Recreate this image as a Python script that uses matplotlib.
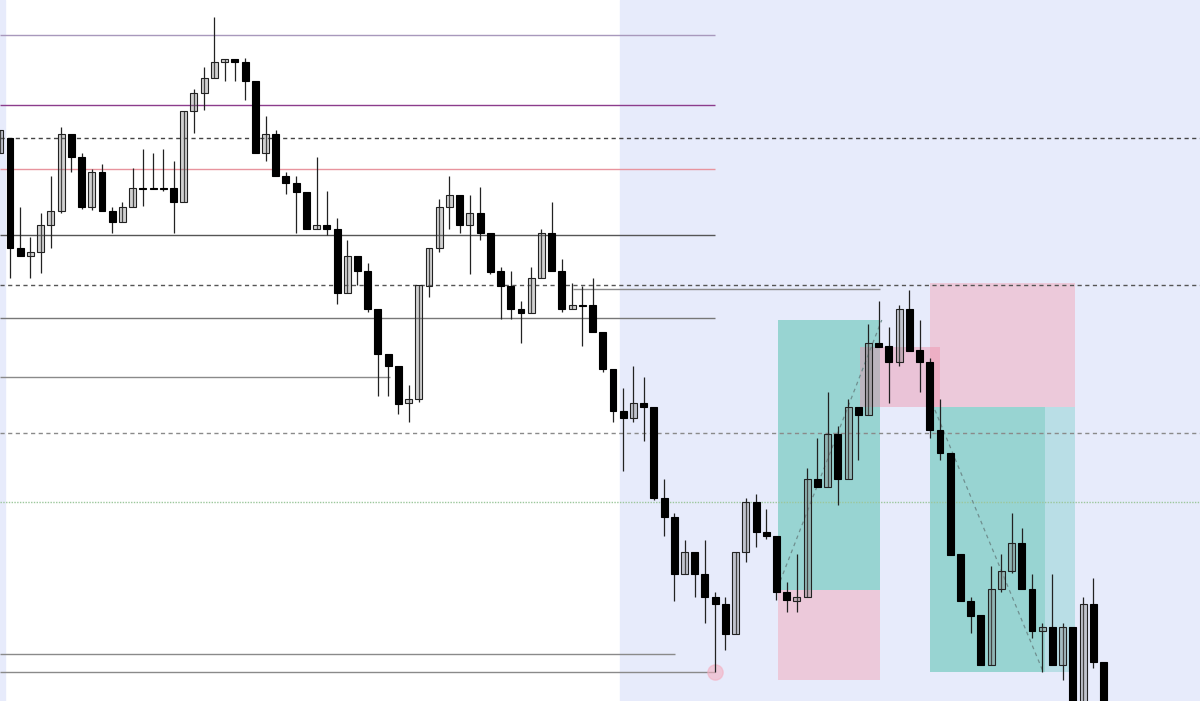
"""
Свечной график с зонами сделок и горизонтальными уровнями.
"""

import matplotlib

matplotlib.use("Agg")
import matplotlib.pyplot as plt
import numpy as np
from matplotlib.patches import Rectangle

# Цены в единицах графика (ось цены перевёрнута: меньше значение -> выше на графике)
opens = [153, 138, 248, 256, 252, 225, 211, 134, 157, 207, 172, 211, 222, 207, 188, 188, 188, 188, 202,
         111, 93, 78, 62, 59, 62, 81, 153, 134, 176, 183, 192, 229, 225, 229, 293, 256, 271, 309, 354,
         366, 403, 399, 286, 248, 207, 195, 225, 213, 233, 271, 286, 309, 313, 278, 233, 271, 309, 305,
         305, 332, 369, 411, 418, 403, 407, 498, 517, 574, 552, 574, 597, 604, 634, 552, 502, 532, 536,
         592, 601, 597, 479, 487, 434, 479, 407, 415, 343, 346, 362, 309, 350, 362, 430, 453, 554, 601,
         615, 665, 589, 571, 543, 589, 631, 627, 665, 627, 710, 604, 662]
highs = [130, 138, 207, 237, 213, 176, 127, 134, 153, 169, 164, 207, 202, 168, 149, 153, 149, 161, 111,
         89, 67, 17, 59, 59, 58, 81, 116, 130, 172, 176, 192, 157, 191, 218, 240, 256, 263, 309, 354,
         366, 385, 285, 248, 199, 176, 195, 195, 187, 233, 267, 271, 301, 267, 229, 202, 259, 283, 286,
         278, 332, 369, 388, 366, 377, 407, 479, 513, 540, 552, 540, 592, 597, 552, 498, 494, 509, 536,
         582, 554, 468, 438, 392, 426, 399, 407, 324, 301, 327, 305, 290, 320, 358, 399, 453, 554, 597,
         615, 566, 554, 513, 528, 574, 623, 574, 623, 627, 597, 578, 662]
lows = [153, 278, 256, 278, 273, 248, 213, 172, 209, 210, 211, 233, 222, 207, 206, 189, 191, 233, 202,
        133, 110, 78, 81, 81, 100, 153, 161, 176, 194, 233, 229, 229, 235, 304, 293, 285, 312, 396, 396,
        414, 422, 402, 297, 252, 229, 233, 274, 240, 274, 319, 319, 343, 313, 278, 271, 312, 309, 346,
        332, 372, 422, 471, 422, 441, 500, 536, 601, 574, 597, 623, 672, 650, 634, 562, 547, 539, 600,
        612, 612, 597, 487, 487, 505, 479, 460, 415, 347, 403, 366, 351, 392, 438, 460, 555, 601, 633,
        665, 665, 592, 573, 589, 638, 672, 665, 680, 710, 710, 668, 710]
closes = [130, 248, 256, 252, 225, 211, 134, 157, 207, 172, 211, 222, 207, 188, 188, 188, 188, 202, 111,
          93, 78, 62, 59, 62, 81, 153, 134, 176, 183, 192, 229, 225, 229, 293, 256, 271, 309, 354, 366,
          404, 399, 285, 248, 207, 195, 225, 213, 233, 272, 286, 309, 313, 278, 233, 271, 309, 305, 305,
          332, 369, 411, 418, 403, 407, 498, 517, 574, 552, 574, 597, 604, 634, 552, 502, 532, 536, 592,
          600, 597, 479, 487, 434, 479, 407, 415, 343, 347, 362, 309, 351, 362, 430, 453, 555, 601, 616,
          665, 589, 571, 543, 589, 631, 627, 665, 627, 710, 604, 662, 710]

# Горизонтальные уровни: цена, начало и конец в номерах свечей, цвет
level_prices = [35, 105, 169, 235, 318, 377, 654, 672, 289]
level_starts = [0, 0, 0, 0, 0, 0, 0, 0, 56.1]
level_ends = [70, 70, 70, 70, 70, 38.2, 66.1, 70, 86.1]
level_colors = ["#a898bc", "#8c3c8c", "#e8949e", "#555555", "#777777", "#8a8a8a", "#8a8a8a",
                "#8a8a8a", "#8a8a8a"]

# Уровни через весь график
wide_prices = [138, 285, 433, 502]
wide_colors = ["#444444", "#555555", "#8a8a8a", "#9cc79c"]
wide_styles = [(0, (3, 2.5)), (0, (3, 2.5)), (0, (3, 2.5)), (0, (1, 1))]

# Зоны позиций: x0, x1 (номера свечей), верх, низ (цена), цвет
zone_x0 = [76.1, 76.1, 91.0, 91.0, 102.3, 84.2]
zone_x1 = [86.1, 86.1, 105.2, 102.3, 105.2, 92.0]
zone_top = [320, 590, 283, 407, 407, 347]
zone_bottom = [590, 680, 407, 672, 672, 407]
zone_colors = ["#98d4d2", "#ecc9da", "#ecc9da", "#98d4d2", "#b9dee6", (0.94, 0.55, 0.65, 0.42)]

# Пунктирные диагонали внутри зон
diag_x = [(76.1, 86.3), (91.5, 102.1)]
diag_y = [(588, 320), (410, 672)]

shade_start = 60.7  # начало затенённой области справа
x_min, x_max = 0.02, 117.44


def draw_candles(ax, o, h, l, c):
    """
    Рисует свечи: растущие серые полупрозрачные, падающие чёрные.
    """
    o, h, l, c = map(np.asarray, (o, h, l, c))
    x = np.arange(len(o))
    bull = c < o
    bottom = np.minimum(o, c)
    height = np.maximum(np.abs(o - c), 1.2)

    ax.vlines(x, h, l, color="#222222", linewidth=0.9, zorder=3)
    ax.bar(x[bull], height[bull], bottom=bottom[bull], width=0.68,
           facecolor=(0.5, 0.5, 0.5, 0.36), edgecolor="#222222", linewidth=0.8, zorder=4)
    ax.bar(x[~bull], height[~bull], bottom=bottom[~bull], width=0.68,
           facecolor="black", edgecolor="black", linewidth=0.8, zorder=4)


fig = plt.figure(figsize=(12, 7.01), dpi=100)
ax = fig.add_axes([0, 0, 1, 1])
ax.set_xlim(x_min, x_max)
ax.set_ylim(701, 0)
ax.axis("off")

# Фон: белый слева, сиреневый справа
ax.axvspan(shade_start, x_max, color="#e7ebfb", zorder=0)
ax.axvspan(x_min, 0.5, color="#e7ebfb", zorder=0)

for x0, x1, top, bot, col in zip(zone_x0, zone_x1, zone_top, zone_bottom, zone_colors):
    ax.add_patch(Rectangle((x0, top), x1 - x0, bot - top, facecolor=col, edgecolor="none", zorder=1))

for price, x0, x1, col in zip(level_prices, level_starts, level_ends, level_colors):
    ax.hlines(price, x0, x1, color=col, linewidth=1.0, zorder=2)

for price, col, ls in zip(wide_prices, wide_colors, wide_styles):
    ax.axhline(price, color=col, linewidth=1.0, linestyle=ls, zorder=2)

for xs, ys in zip(diag_x, diag_y):
    ax.plot(xs, ys, color="#6f8f8f", linewidth=0.9, linestyle=(0, (3, 3)), zorder=2)

draw_candles(ax, opens, highs, lows, closes)

# Отметка минимума
ax.plot([70], [lows[70]], "o", markersize=11, color="#f4b0c2", alpha=0.6, zorder=2)

plt.savefig("out.png", dpi=100)
plt.close()
